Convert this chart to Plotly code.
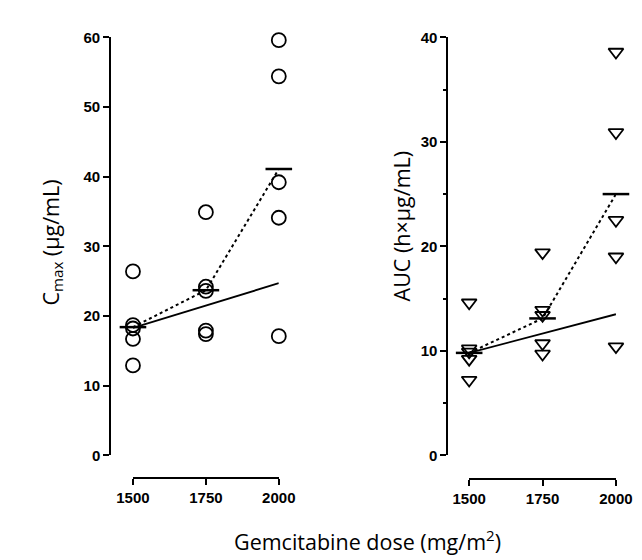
import plotly.graph_objects as go

# ---- data ----
doses = [1500, 1750, 2000]
cmax_1500 = [26.4, 18.7, 18.2, 16.7, 12.9]
cmax_1750 = [34.9, 24.2, 23.6, 17.9, 17.4]
cmax_2000 = [59.6, 54.4, 39.2, 34.1, 17.1]
cmax_mean = [18.4, 23.7, 41.1]
cmax_fit_x = [1500, 2000]
cmax_fit_y = [18.3, 24.7]

auc_1500 = [14.6, 10.2, 9.9, 9.2, 7.2]
auc_1750 = [19.4, 13.9, 13.4, 10.7, 9.7]
auc_2000 = [38.6, 30.9, 22.5, 19.0, 10.4]
auc_mean = [9.8, 13.1, 25.0]
auc_fit_x = [1500, 2000]
auc_fit_y = [9.8, 13.5]

x_ticks = [1500, 1750, 2000]
x_ticklabels = ["1500", "1750", "2000"]
cmax_ticks = [0, 10, 20, 30, 40, 50, 60]
auc_ticks = [0, 10, 20, 30, 40]

W, H = 642, 560
def fx(px):
    return px / W
def fy(py):
    return 1 - py / H

TICKFONT = dict(family="Liberation Sans, Arial, sans-serif", size=15, color="black", weight="bold")
TITLEFONT = dict(family="Open Sans, Noto Sans, sans-serif", size=21.5, color="black")

fig = go.Figure()

def add_panel(groups, means, fitx, fity, xa, ya, symbol, msize):
    xs, ys = [], []
    for d, vals in zip(doses, groups):
        xs += [d] * len(vals)
        ys += vals
    fig.add_trace(go.Scatter(x=fitx, y=fity, mode="lines", xaxis=xa, yaxis=ya,
                             line=dict(color="black", width=1.8), showlegend=False, cliponaxis=False))
    fig.add_trace(go.Scatter(x=doses, y=means, mode="lines", xaxis=xa, yaxis=ya,
                             line=dict(color="black", width=2, dash="dot"), showlegend=False, cliponaxis=False))
    fig.add_trace(go.Scatter(x=xs, y=ys, mode="markers", xaxis=xa, yaxis=ya,
                             marker=dict(symbol=symbol, size=msize, color="black",
                                         line=dict(color="black", width=1.8)),
                             showlegend=False, cliponaxis=False))
    fig.add_trace(go.Scatter(x=doses, y=means, mode="markers", xaxis=xa, yaxis=ya,
                             marker=dict(symbol="line-ew", size=19, color="black",
                                         line=dict(color="black", width=2.5)),
                             showlegend=False, cliponaxis=False))

add_panel([cmax_1500, cmax_1750, cmax_2000], cmax_mean, cmax_fit_x, cmax_fit_y,
          "x", "y", "circle-open", 14)
add_panel([auc_1500, auc_1750, auc_2000], auc_mean, auc_fit_x, auc_fit_y,
          "x2", "y2", "triangle-down-open", 13)

axis_common = dict(showline=True, linecolor="black", linewidth=2, ticks="outside",
                   tickcolor="black", tickwidth=2, ticklen=6, showgrid=False,
                   zeroline=False, tickfont=TICKFONT)

fig.update_layout(
    width=W, height=H,
    margin=dict(l=0, r=0, t=0, b=0, pad=0),
    paper_bgcolor="white", plot_bgcolor="rgba(0,0,0,0)",
    xaxis=dict(domain=[fx(114), fx(268)], range=[1500, 2000], anchor="free",
               position=fy(475), tickvals=x_ticks, ticktext=x_ticklabels, **axis_common),
    yaxis=dict(domain=[fy(452), fy(21)], range=[0, 60], anchor="free",
               position=fx(90), tickvals=cmax_ticks, **axis_common),
    xaxis2=dict(domain=[fx(469), fx(624)], range=[1500, 2000], anchor="free",
                position=fy(476), tickvals=x_ticks, ticktext=x_ticklabels, **axis_common),
    yaxis2=dict(domain=[fy(452), fy(21)], range=[0, 40], anchor="free",
                position=fx(446), tickvals=auc_ticks,
                minor=dict(dtick=5, ticks="outside", ticklen=3, tickwidth=1.5, tickcolor="black"),
                **axis_common),
    annotations=[
        dict(text="C<sub>max</sub> (µg/mL)", xref="paper", yref="paper",
             x=fx(28), y=fy(233), textangle=-90, showarrow=False,
             font=TITLEFONT, xanchor="center", yanchor="middle"),
        dict(text="AUC (h×µg/mL)", xref="paper", yref="paper",
             x=fx(398), y=fy(215), textangle=-90, showarrow=False,
             font=TITLEFONT, xanchor="center", yanchor="middle"),
        dict(text="Gemcitabine dose (mg/m<sup>2</sup>)", xref="paper", yref="paper",
             x=fx(362), y=fy(540), showarrow=False,
             font=TITLEFONT, xanchor="center", yanchor="middle"),
    ],
)

fig.write_html("out.html")
